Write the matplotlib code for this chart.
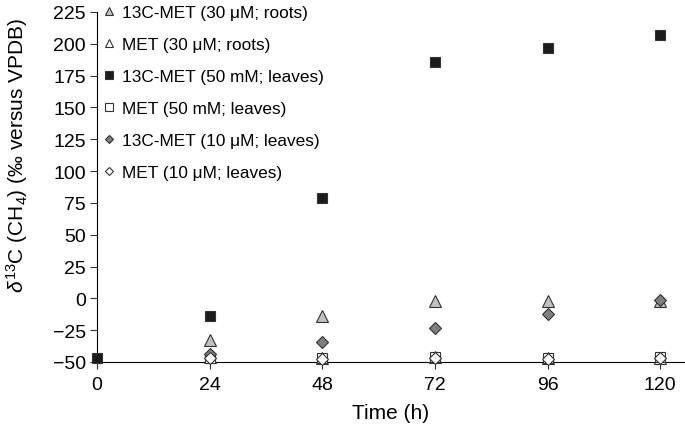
import numpy as np
import matplotlib.pyplot as plt

plt.rcParams['font.family'] = ['Liberation Sans', 'DejaVu Sans']
plt.rcParams['mathtext.fontset'] = 'custom'
plt.rcParams['mathtext.rm'] = 'Liberation Sans'
plt.rcParams['mathtext.it'] = 'Liberation Sans:italic'

# --- data ---
time_h = [0, 24, 48, 72, 96, 120]
nan = np.nan
c13_30uM_roots = [nan, -33, -14, -2, -2, -2]
met_30uM_roots = [nan, -46, -47, -46, -47, -47]
c13_50mM_leaves = [-47, -14, 79, 186, 197, 207]
met_50mM_leaves = [nan, -47, -47, -46, -47, -46]
c13_10uM_leaves = [nan, -44, -34, -23, -12, -1]
met_10uM_leaves = [nan, -47, -48, -47, -48, -47]

labels = ['13C-MET (30 \u03bcM; roots)', 'MET (30 \u03bcM; roots)',
          '13C-MET (50 mM; leaves)', 'MET (50 mM; leaves)',
          '13C-MET (10 \u03bcM; leaves)', 'MET (10 \u03bcM; leaves)']
series = [c13_30uM_roots, met_30uM_roots, c13_50mM_leaves,
          met_50mM_leaves, c13_10uM_leaves, met_10uM_leaves]
markers = ['^', '^', 's', 's', 'D', 'D']
fills = ['#c0c0c0', 'white', '#1c1c1c', 'white', '#7f7f7f', 'white']
sizes = [8, 8, 7.5, 7.5, 6, 6]

fig = plt.figure(figsize=(6.85, 4.27), dpi=100)
ax = fig.add_axes([0.1416, 0.1499, 0.8584, 0.8197])

for vals, lab, m, fc, ms in zip(series, labels, markers, fills, sizes):
    ax.plot(time_h, vals, linestyle='none', marker=m, markersize=ms,
            markerfacecolor=fc, markeredgecolor='#333333', markeredgewidth=0.8,
            label=lab, clip_on=False, zorder=3)

ax.set_xlim(0, 125.3)
ax.set_ylim(-50, 225)
ax.set_xticks(time_h)
ax.set_yticks(np.arange(-50, 226, 25))
ax.set_yticklabels([str(v).replace('-', '\u2212') for v in range(-50, 226, 25)])
ax.spines['top'].set_visible(False)
ax.spines['right'].set_visible(False)
ax.tick_params(labelsize=14, length=5, width=0.8, color='#333333', pad=3)
ax.tick_params(axis='x', pad=5)
ax.set_xlabel('Time (h)', fontsize=15, labelpad=7)
ax.set_ylabel('$\\it{\\delta}^{13}$C (CH$_4$) (\u2030 versus VPDB)', fontsize=15)
ax.yaxis.set_label_coords(-0.114, 0.594)

leg = ax.legend(loc='upper left', bbox_to_anchor=(-0.005, 1.04), frameon=False,
                fontsize=12.4, handlelength=0.9, handletextpad=0.35,
                labelspacing=0.99, markerscale=0.7, borderaxespad=0)

fig.savefig('out.png', dpi=100)
